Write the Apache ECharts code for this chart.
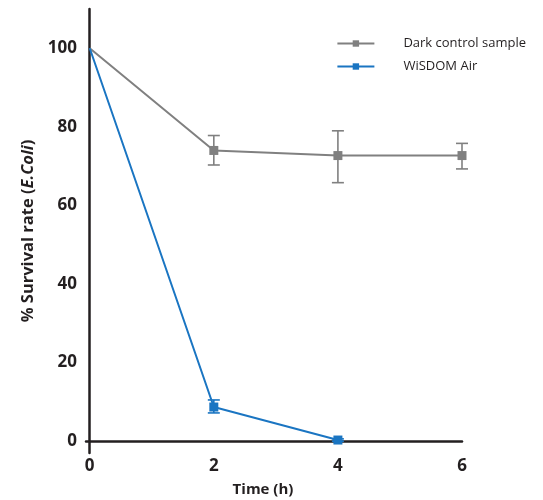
<!DOCTYPE html>
<html><head><meta charset="utf-8">
<script src="https://cdn.jsdelivr.net/npm/echarts@6/dist/echarts.min.js"></script>
<style>html,body{margin:0;padding:0;background:#fff}#c{width:543px;height:500px}</style>
</head><body><div id="c"></div>
<script>
const times = [0, 2, 4, 6];
const darkMean = [100, 74.0, 72.7, 72.7];
const darkLow = [100, 70.3, 65.8, 69.3];
const darkHigh = [100, 77.8, 79.0, 75.8];
const airTimes = [0, 2, 4];
const airMean = [100, 8.7, 0.3];
const airLow = [100, 7.2, 0.0];
const airHigh = [100, 10.5, 0.6];
const xTicks = [0, 2, 4, 6];
const yTicks = [0, 20, 40, 60, 80, 100];

const GRAY = '#808080', BLUE = '#1a75c2', TXT = '#231f20';
const FONT = '"Open Sans", sans-serif';

function errSeries(xs, lo, hi, color) {
  return {
    type: 'custom', silent: true, z: 3,
    data: xs.map((x, i) => [x, lo[i], hi[i]]).filter(d => d[1] !== d[2]),
    renderItem(params, api) {
      const x = api.value(0);
      const a = api.coord([x, api.value(1)]);
      const b = api.coord([x, api.value(2)]);
      const w = 6;
      const st = { stroke: color, lineWidth: 1.6 };
      return { type: 'group', children: [
        { type: 'line', shape: { x1: a[0], y1: a[1], x2: b[0], y2: b[1] }, style: st },
        { type: 'line', shape: { x1: a[0]-w, y1: a[1], x2: a[0]+w, y2: a[1] }, style: st },
        { type: 'line', shape: { x1: b[0]-w, y1: b[1], x2: b[0]+w, y2: b[1] }, style: st }
      ]};
    }
  };
}

function pts(xs, ys) {
  return xs.map((x, i) => x === 0 ? { value: [x, ys[i]], symbol: 'none' } : [x, ys[i]]);
}

const chart = echarts.init(document.getElementById('c'));
chart.setOption({
  animation: false,
  grid: { left: 86, right: 81, top: 9, bottom: 47, outerBoundsMode: 'none', containLabel: false },
  legend: {
    right: 12, top: 32, orient: 'vertical', itemGap: 10,
    itemWidth: 37, itemHeight: 8,
    textStyle: { fontFamily: FONT, fontSize: 13, color: TXT, padding: [0, 0, 0, 24] },
    data: ['Dark control sample', 'WiSDOM Air']
  },
  xAxis: {
    type: 'value', min: -0.06, max: 6,
    name: 'Time (h)', nameLocation: 'middle', nameGap: 29,
    nameTextStyle: { fontFamily: FONT, fontSize: 15, fontWeight: 'bold', color: TXT, padding: [0, 22, 0, 0] },
    axisLine: { onZero: true, lineStyle: { color: TXT, width: 2.5 } },
    axisTick: { show: false },
    splitLine: { show: false },
    axisLabel: { customValues: xTicks, fontFamily: FONT, fontSize: 17, fontWeight: 'bold', color: TXT, margin: 5 }
  },
  yAxis: {
    type: 'value', min: -3, max: 110,
    name: '% Survival rate ({i|E.Coli})', nameLocation: 'middle', nameGap: 49,
    nameTextStyle: { fontFamily: FONT, fontSize: 16.5, fontWeight: 'bold', color: TXT,
      rich: { i: { fontFamily: FONT, fontSize: 16.5, fontWeight: 'bold', fontStyle: 'italic', color: TXT } } },
    axisLine: { onZero: true, lineStyle: { color: TXT, width: 2.5 } },
    axisTick: { show: false },
    splitLine: { show: false },
    axisLabel: { customValues: yTicks, fontFamily: FONT, fontSize: 17, fontWeight: 'bold', color: TXT, margin: 9 }
  },
  series: [
    {
      name: 'Dark control sample', type: 'line', z: 4,
      data: pts(times, darkMean),
      symbol: 'rect', symbolSize: 9,
      lineStyle: { color: GRAY, width: 2 }, itemStyle: { color: GRAY }
    },
    errSeries(times, darkLow, darkHigh, GRAY),
    {
      name: 'WiSDOM Air', type: 'line', z: 4,
      data: pts(airTimes, airMean),
      symbol: 'rect', symbolSize: 9,
      lineStyle: { color: BLUE, width: 2 }, itemStyle: { color: BLUE }
    },
    errSeries(airTimes, airLow, airHigh, BLUE)
  ]
});
</script></body></html>
